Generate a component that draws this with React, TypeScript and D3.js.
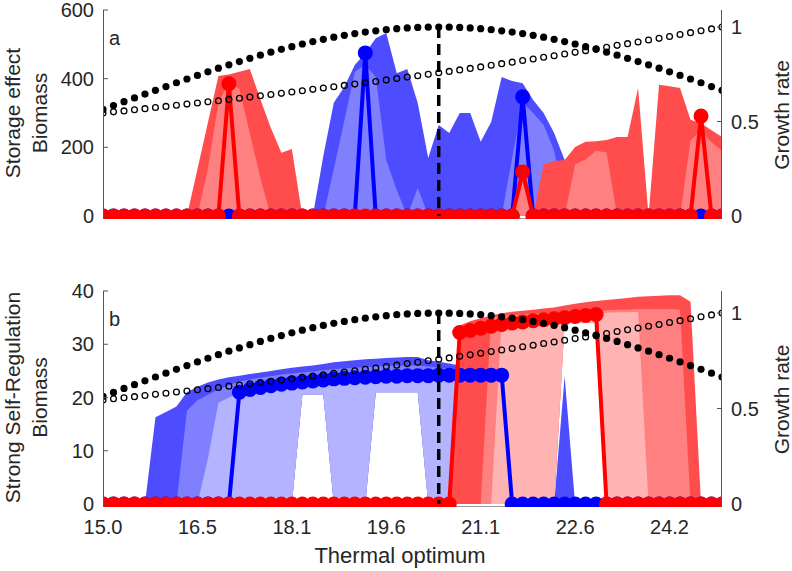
import React, { useEffect, useRef } from 'react';
import * as d3 from 'd3';

// 60 species, thermal optima from 15 to 25; a label every 9th species
const xTickIndex = [0, 9, 18, 27, 36, 45, 54];
const xTickLabels = ['15.0', '16.5', '18.1', '19.6', '21.1', '22.6', '24.2'];

// growth rate (right axis), filled and open dots
const growthFilled = [
  0.564, 0.584, 0.605, 0.625, 0.645, 0.665, 0.685, 0.705, 0.725, 0.744,
  0.763, 0.782, 0.800, 0.817, 0.834, 0.851, 0.867, 0.882, 0.896, 0.910,
  0.923, 0.935, 0.946, 0.956, 0.965, 0.973, 0.980, 0.986, 0.991, 0.995,
  0.998, 0.999, 1.000, 0.999, 0.998, 0.995, 0.991, 0.986, 0.980, 0.973,
  0.965, 0.956, 0.946, 0.935, 0.923, 0.910, 0.896, 0.882, 0.867, 0.851,
  0.834, 0.817, 0.800, 0.782, 0.763, 0.744, 0.725, 0.705, 0.685, 0.665,
];
const growthOpen = [
  0.545, 0.551, 0.556, 0.562, 0.568, 0.574, 0.580, 0.586, 0.592, 0.598,
  0.604, 0.610, 0.617, 0.623, 0.629, 0.636, 0.643, 0.649, 0.656, 0.663,
  0.670, 0.677, 0.684, 0.691, 0.698, 0.705, 0.712, 0.720, 0.727, 0.735,
  0.742, 0.750, 0.758, 0.765, 0.773, 0.781, 0.789, 0.798, 0.806, 0.814,
  0.823, 0.831, 0.840, 0.848, 0.857, 0.866, 0.875, 0.884, 0.893, 0.903,
  0.912, 0.921, 0.931, 0.940, 0.950, 0.960, 0.970, 0.980, 0.990, 1.000,
];

// biomass of each species (lines with markers)
const storageRed = [
  0, 0, 0, 0, 0, 0, 0, 0, 0, 0,
  0, 0, 385, 0, 0, 0, 0, 0, 0, 0,
  0, 0, 0, 0, 0, 0, 0, 0, 0, 0,
  0, 0, 0, 0, 0, 0, 0, 0, 0, 0,
  128, 0, 0, 0, 0, 0, 0, 0, 0, 0,
  0, 0, 0, 0, 0, 0, 0, 291, 0, 0,
];
const storageBlue = [
  0, 0, 0, 0, 0, 0, 0, 0, 0, 0,
  0, 0, 0, 0, 0, 0, 0, 0, 0, 0,
  0, 0, 0, 0, 0, 475, 0, 0, 0, 0,
  0, 0, 0, 0, 0, 0, 0, 0, 0, 0,
  347, 0, 0, 0, 0, 0, 0, 0, 0, 0,
  0, 0, 0, 0, 0, 0, 0, 0, 0, 0,
];
const selfRegRed = [
  0, 0, 0, 0, 0, 0, 0, 0, 0, 0,
  0, 0, 0, 0, 0, 0, 0, 0, 0, 0,
  0, 0, 0, 0, 0, 0, 0, 0, 0, 0,
  0, 0, 0, 0, 32.2, 32.6, 33.0, 33.4, 33.7, 34.0,
  34.2, 34.4, 34.6, 34.8, 35.0, 35.2, 35.4, 35.6, 0, 0,
  0, 0, 0, 0, 0, 0, 0, 0, 0, 0,
];
const selfRegBlue = [
  0, 0, 0, 0, 0, 0, 0, 0, 0, 0,
  0, 0, 0, 21.0, 21.5, 21.9, 22.2, 22.5, 22.7, 22.9,
  23.1, 23.3, 23.5, 23.6, 23.7, 23.8, 23.9, 24.0, 24.0, 24.1,
  24.1, 24.1, 24.2, 24.2, 24.2, 24.2, 24.2, 24.2, 24.2, 0,
  0, 0, 0, 0, 0, 0, 0, 0, 0, 0,
  0, 0, 0, 0, 0, 0, 0, 0, 0, 0,
];

// shaded envelopes: [species index, lower, upper]
const storageRedOuter = [
  [8, 0, 0], [9, 0, 136], [10, 0, 272], [11, 0, 408], [12, 0, 412], [13, 0, 420], [14, 0, 428],
  [15, 0, 340], [16, 0, 256], [17, 0, 184], [18, 0, 195], [19, 0, 0], [39, 0, 0], [40, 0, 110],
  [41, 0, 0], [42, 0, 150], [43, 0, 160], [44, 0, 163], [45, 0, 201], [46, 0, 216], [47, 0, 218],
  [48, 0, 221], [49, 0, 230], [50, 0, 230], [51, 0, 373], [52, 0, 0], [53, 0, 382], [54, 0, 378],
  [55, 0, 373], [56, 0, 280], [57, 0, 270], [58, 0, 250], [59, 0, 230],
];
const storageRedInner = [
  [9, 0, 0], [10, 0, 140], [11, 0, 330], [12, 0, 390], [13, 0, 370], [14, 0, 240], [15, 0, 110],
  [16, 0, 0], [39, 0, 0], [40, 0, 100], [41, 0, 0], [44, 0, 0], [45, 0, 150], [46, 0, 165],
  [47, 0, 190], [48, 0, 185], [49, 0, 0], [55, 0, 0], [56, 0, 220], [57, 0, 250], [58, 0, 215],
  [59, 0, 190],
];
const storageBlueOuter = [
  [20, 0, 0], [21, 0, 175], [22, 0, 330], [23, 0, 376], [24, 0, 440], [25, 0, 475], [26, 0, 518],
  [27, 0, 533], [28, 0, 416], [29, 0, 428], [30, 0, 329], [31, 0, 169], [32, 0, 265], [33, 0, 242],
  [34, 0, 300], [35, 0, 300], [36, 0, 216], [37, 0, 274], [38, 0, 405], [39, 0, 393], [40, 0, 387],
  [41, 0, 338], [42, 0, 300], [43, 0, 242], [44, 0, 163], [45, 0, 0],
];
const storageBlueInner = [
  [21, 0, 0], [22, 0, 137], [23, 0, 277], [24, 0, 420], [25, 0, 440], [26, 0, 405], [27, 0, 163],
  [28, 0, 76], [29, 0, 0], [30, 0, 82], [31, 0, 0], [38, 0, 0], [39, 0, 170], [40, 0, 330],
  [41, 0, 300], [42, 0, 265], [43, 0, 190], [44, 0, 30], [45, 0, 0],
];
const selfRegBlueOuter = [
  [4, 0, 0], [5, 0, 16.3], [6, 0, 17.3], [7, 0, 18.3], [8, 0, 21], [9, 0, 22], [10, 0, 22.8],
  [11, 0, 23.4], [12, 0, 23.8], [13, 0, 24.1], [14, 0, 24.4], [15, 0, 24.7], [16, 0, 25],
  [17, 0, 25.3], [18, 0, 25.6], [19, 20.5, 25.8], [20, 20.5, 26], [21, 20.5, 26.3], [22, 0, 26.6],
  [23, 0, 26.8], [24, 0, 27], [25, 0, 27.2], [26, 21, 27.3], [27, 21, 27.4], [28, 21, 27.5],
  [29, 21, 27.6], [30, 21, 27.6], [31, 0, 27], [32, 0, 26.7], [33, 0, 26.4], [34, 0, 26],
  [35, 0, 0], [43, 0, 0], [44, 0, 24], [45, 0, 0],
];
const selfRegBlueMid = [
  [7, 0, 0], [8, 0, 17.5], [9, 0, 19.5], [10, 0, 20.5], [11, 0, 21.5], [12, 0, 22.3], [13, 0, 23],
  [14, 0, 23.4], [15, 0, 23.7], [16, 0, 24], [17, 0, 24.3], [18, 0, 24.5], [19, 20.5, 24.7],
  [20, 20.5, 24.9], [21, 20.5, 25.1], [22, 0, 25.3], [23, 0, 25.5], [24, 0, 25.6], [25, 0, 25.7],
  [26, 21, 25.8], [27, 21, 25.9], [28, 21, 26], [29, 21, 26], [30, 21, 26], [31, 0, 25.8],
  [32, 0, 25.6], [33, 0, 25.4], [34, 0, 25], [35, 0, 0],
];
const selfRegBlueInner = [
  [9, 0, 0], [10, 0, 8.5], [11, 0, 19], [12, 0, 20], [13, 0, 20.8], [14, 0, 21.2], [15, 0, 21.5],
  [16, 0, 21.8], [17, 0, 22], [18, 0, 22.2], [19, 20.5, 22.4], [20, 20.5, 22.6], [21, 20.5, 22.8],
  [22, 0, 23], [23, 0, 23.1], [24, 0, 23.2], [25, 0, 23.3], [26, 21, 23.4], [27, 21, 23.5],
  [28, 21, 23.6], [29, 21, 23.6], [30, 21, 23.6], [31, 0, 23.6], [32, 0, 23.6], [33, 0, 23.6],
  [34, 0, 23.6], [35, 0, 0],
];
const selfRegRedOuter = [
  [33, 0, 0], [34, 0, 33.5], [35, 0, 34.3], [36, 0, 34.9], [37, 0, 35.4], [38, 0, 35.8],
  [39, 0, 36.1], [40, 0, 36.3], [41, 0, 36.5], [42, 0, 36.7], [43, 0, 36.9], [44, 34, 37.3],
  [45, 34, 37.6], [46, 34, 37.9], [47, 34, 38.1], [48, 0, 38.3], [49, 0, 38.5], [50, 0, 38.7],
  [51, 0, 38.9], [52, 0, 39], [53, 0, 39.1], [54, 0, 39.2], [55, 0, 39.2], [56, 0, 38], [57, 0, 0],
];
const selfRegRedMid = [
  [36, 0, 0], [37, 0, 35], [38, 0, 35.3], [39, 0, 35.5], [40, 0, 35.6], [41, 0, 35.7], [42, 0, 35.8],
  [43, 0, 35.9], [44, 34, 36], [45, 34, 36.1], [46, 34, 36.2], [47, 34, 36.3], [48, 0, 36.4],
  [49, 0, 36.5], [50, 0, 36.5], [51, 0, 36.6], [52, 0, 36.6], [53, 0, 36.6], [54, 0, 36.6],
  [55, 0, 36.5], [56, 0, 0],
];
const selfRegRedInner = [
  [37, 0, 0], [38, 0, 34.8], [39, 0, 35], [40, 0, 35.1], [41, 0, 35.2], [42, 0, 35.3], [43, 0, 35.4],
  [44, 34, 35.5], [45, 34, 35.6], [46, 34, 35.7], [47, 34, 35.8], [48, 0, 35.9], [49, 0, 36],
  [50, 0, 36], [51, 0, 36.1], [52, 0, 0],
];

const blueShades = ['#4d4dff', '#8080ff', '#b3b3ff'];
const redShades = ['#ff4d4d', '#ff8080', '#ffb3b3'];

export default function App() {
  const svgRef = useRef<SVGSVGElement>(null);

  useEffect(() => {
    if (!svgRef.current) return;
    const svg = d3.select(svgRef.current);
    svg.selectAll('*').remove();

    const font = "'Liberation Sans', Arial, Helvetica, sans-serif";
    const ink = '#262626';
    const left = 103, right = 722;
    const x = d3.scaleLinear().domain([0, growthFilled.length - 1]).range([left, right]);
    const peak = d3.maxIndex(growthFilled);

    const panels = [
      {
        top: 10, bottom: 216, oneAt: 27, yMax: 600, ticks: [0, 200, 400, 600], letter: 'a',
        title: ['Storage effect', 'Biomass'],
        blueBands: [storageBlueOuter, storageBlueInner], redBands: [storageRedOuter, storageRedInner],
        blue: storageBlue, red: storageRed,
      },
      {
        top: 291, bottom: 504, oneAt: 313, yMax: 40, ticks: [0, 10, 20, 30, 40], letter: 'b',
        title: ['Strong Self-Regulation', 'Biomass'],
        blueBands: [selfRegBlueOuter, selfRegBlueMid, selfRegBlueInner],
        redBands: [selfRegRedOuter, selfRegRedMid, selfRegRedInner],
        blue: selfRegBlue, red: selfRegRed,
      },
    ];

    panels.forEach((p, k) => {
      const yL = d3.scaleLinear().domain([0, p.yMax]).range([p.bottom, p.top]);
      const yR = d3.scaleLinear().domain([0, 1]).range([p.bottom, p.oneAt]);
      const floor = p.bottom + 3;
      const mid = (p.top + p.bottom) / 2;

      svg.append('clipPath').attr('id', `plot-${k}`)
        .append('rect')
        .attr('x', left).attr('y', p.top)
        .attr('width', right - left).attr('height', floor - p.top);

      const g = svg.append('g').attr('clip-path', `url(#plot-${k})`);

      const band = d3.area<number[]>()
        .x(d => x(d[0]))
        .y0(d => yL(d[1]))
        .y1(d => yL(d[2]));
      p.blueBands.forEach((b, j) => g.append('path').attr('d', band(b)).attr('fill', blueShades[j]));
      p.redBands.forEach((b, j) => g.append('path').attr('d', band(b)).attr('fill', redShades[j]));

      g.append('line')
        .attr('x1', left).attr('x2', right)
        .attr('y1', floor - 0.5).attr('y2', floor - 0.5)
        .attr('stroke', '#9a9a9a');

      const line = d3.line<number>().x((d, i) => x(i)).y(d => yL(d));
      [[p.blue, '#0000ff'], [p.red, '#ff0000']].forEach(([vals, c]: any) => {
        g.append('path')
          .attr('d', line(vals))
          .attr('fill', 'none')
          .attr('stroke', c)
          .attr('stroke-width', 4)
          .attr('stroke-linejoin', 'round');
        g.selectAll(null).data(vals).enter().append('circle')
          .attr('cx', (d, i) => x(i))
          .attr('cy', (d: any) => yL(d))
          .attr('r', 7.5)
          .attr('fill', c);
      });

      g.append('line')
        .attr('x1', x(peak)).attr('x2', x(peak))
        .attr('y1', yR(growthFilled[peak])).attr('y2', p.bottom)
        .attr('stroke', '#000')
        .attr('stroke-width', 3.5)
        .attr('stroke-dasharray', '11,6');

      g.selectAll(null).data(growthFilled).enter().append('circle')
        .attr('cx', (d, i) => x(i))
        .attr('cy', d => yR(d))
        .attr('r', 3.6)
        .attr('fill', '#000');

      g.selectAll(null).data(growthOpen).enter().append('circle')
        .attr('cx', (d, i) => x(i))
        .attr('cy', d => yR(d))
        .attr('r', 2.9)
        .attr('fill', 'none')
        .attr('stroke', '#000')
        .attr('stroke-width', 1.3);

      // left axis
      svg.append('line')
        .attr('x1', left + 0.5).attr('x2', left + 0.5)
        .attr('y1', p.top).attr('y2', floor)
        .attr('stroke', '#555');
      p.ticks.forEach(t => {
        svg.append('line')
          .attr('x1', left).attr('x2', left + 5)
          .attr('y1', yL(t)).attr('y2', yL(t))
          .attr('stroke', '#555');
        svg.append('text')
          .attr('x', 94).attr('y', yL(t)).attr('dy', '0.35em')
          .attr('text-anchor', 'end')
          .style('font-family', font).style('font-size', '20px').style('fill', ink)
          .text(t);
      });

      // right axis
      svg.append('line')
        .attr('x1', right - 0.5).attr('x2', right - 0.5)
        .attr('y1', p.top).attr('y2', floor)
        .attr('stroke', '#555');
      [0, 0.5, 1].forEach(t => {
        svg.append('line')
          .attr('x1', right - 5).attr('x2', right)
          .attr('y1', yR(t)).attr('y2', yR(t))
          .attr('stroke', '#555');
        svg.append('text')
          .attr('x', 731).attr('y', yR(t)).attr('dy', '0.35em')
          .style('font-family', font).style('font-size', '20px').style('fill', ink)
          .text(t);
      });

      svg.append('text')
        .attr('x', 109).attr('y', p.top + 35)
        .style('font-family', font).style('font-size', '20px').style('fill', ink)
        .text(p.letter);

      p.title.forEach((s, j) => {
        svg.append('text')
          .attr('transform', `translate(${j === 0 ? 20 : 47},${mid}) rotate(-90)`)
          .attr('text-anchor', 'middle')
          .style('font-family', font).style('font-size', '21px').style('fill', ink)
          .text(s);
      });

      svg.append('text')
        .attr('transform', `translate(789,${mid + 2}) rotate(-90)`)
        .attr('text-anchor', 'middle')
        .style('font-family', font).style('font-size', '21px').style('fill', ink)
        .text('Growth rate');
    });

    xTickIndex.forEach((idx, j) => {
      svg.append('text')
        .attr('x', x(idx)).attr('y', 534)
        .attr('text-anchor', 'middle')
        .style('font-family', font).style('font-size', '20px').style('fill', ink)
        .text(xTickLabels[j]);
    });

    svg.append('text')
      .attr('x', 400).attr('y', 563)
      .attr('text-anchor', 'middle')
      .style('font-family', font).style('font-size', '22px').style('fill', ink)
      .text('Thermal optimum');
  }, []);

  return (
    <svg
      ref={svgRef}
      width={792}
      height={571}
      style={{ position: 'absolute', left: 0, top: 0, background: '#fff' }}
    />
  );
}
